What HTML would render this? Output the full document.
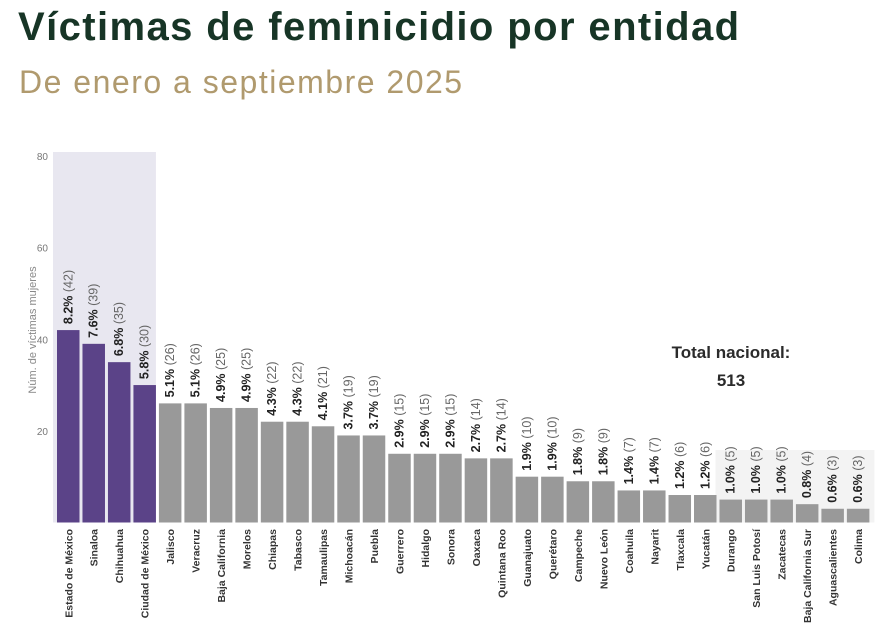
<!DOCTYPE html>
<html><head><meta charset="utf-8"><style>
body{margin:0;width:891px;height:629px;background:#fff;overflow:hidden;font-family:"Liberation Sans","DejaVu Sans",sans-serif}
h1{position:absolute;left:18px;top:5px;margin:0;font-size:40px;font-weight:bold;color:#173526;letter-spacing:1.4px}
h2{position:absolute;left:19px;top:64px;margin:0;font-size:32px;font-weight:normal;color:#b09a6e;letter-spacing:1.5px}
svg{position:absolute;left:0;top:0}
</style></head><body>
<h1>Víctimas de feminicidio por entidad</h1>
<h2>De enero a septiembre 2025</h2>
<svg id="c" width="891" height="629"></svg>
<script>
const categories=["Estado de México","Sinaloa","Chihuahua","Ciudad de México","Jalisco","Veracruz","Baja California","Morelos","Chiapas","Tabasco","Tamaulipas","Michoacán","Puebla","Guerrero","Hidalgo","Sonora","Oaxaca","Quintana Roo","Guanajuato","Querétaro","Campeche","Nuevo León","Coahuila","Nayarit","Tlaxcala","Yucatán","Durango","San Luis Potosí","Zacatecas","Baja California Sur","Aguascalientes","Colima"];
const values=[42,39,35,30,26,26,25,25,22,22,21,19,19,15,15,15,14,14,10,10,9,9,7,7,6,6,5,5,5,4,3,3];
const percents=["8.2%","7.6%","6.8%","5.8%","5.1%","5.1%","4.9%","4.9%","4.3%","4.3%","4.1%","3.7%","3.7%","2.9%","2.9%","2.9%","2.7%","2.7%","1.9%","1.9%","1.8%","1.8%","1.4%","1.4%","1.2%","1.2%","1.0%","1.0%","1.0%","0.8%","0.6%","0.6%"];
const yTicks=[20,40,60,80];
const NS="http://www.w3.org/2000/svg";
const svg=document.getElementById('c');
const x0=57,slot=25.48,bw=22.5,yBase=522.5,yTop=156,yMax=80;
const y=v=>yBase-(v/yMax)*(yBase-yTop);
const x=i=>x0+i*slot;
function mk(t,a,p){const e=document.createElementNS(NS,t);for(const k in a)e.setAttribute(k,a[k]);(p||svg).appendChild(e);return e;}
let hb=mk('rect',{x:x(0)-4,y:152,width:x(4)-x(0)+1,height:yBase-152,fill:'#e8e7f0'});


let gb=mk('rect',{x:x(26)-4,y:450,width:x(31)+bw+5-(x(26)-4),height:yBase-450,fill:'#f3f3f3'});


yTicks.forEach(t=>{const e=mk('text',{x:48,y:y(t)+4,'text-anchor':'end','font-size':10,fill:'#777'});e.textContent=t;

});
const yt=mk('text',{transform:'translate(36,330) rotate(-90)','text-anchor':'middle','font-size':11,fill:'#888'});
yt.textContent='Núm. de víctimas mujeres';


values.forEach((v,i)=>{
 const r=mk('rect',{x:x(i),y:y(v),width:bw,height:yBase-y(v),fill:i<4?'#5b4388':'#999999'});
 
 
 const cx=x(i)+bw/2+4;
 const t=mk('text',{transform:`translate(${cx},${y(v)-6}) rotate(-90)`,'font-size':12.5,fill:'#222'});
 const b=mk('tspan',{'font-weight':'bold'},t);b.textContent=percents[i];
 const n=mk('tspan',{fill:'#666'},t);n.textContent=' ('+v+')';
 
 
 const l=mk('text',{transform:`translate(${cx},529) rotate(-90)`,'text-anchor':'end','font-size':10.5,'font-weight':'bold',fill:'#333'});
 l.textContent=categories[i];
 
 
});
const tn=mk('text',{x:731,y:358,'text-anchor':'middle','font-size':17,'font-weight':'bold',fill:'#2b2b2b'});tn.textContent='Total nacional:';


const tv=mk('text',{x:731,y:386,'text-anchor':'middle','font-size':17,'font-weight':'bold',fill:'#2b2b2b'});tv.textContent='513';


</script>
</body></html>
